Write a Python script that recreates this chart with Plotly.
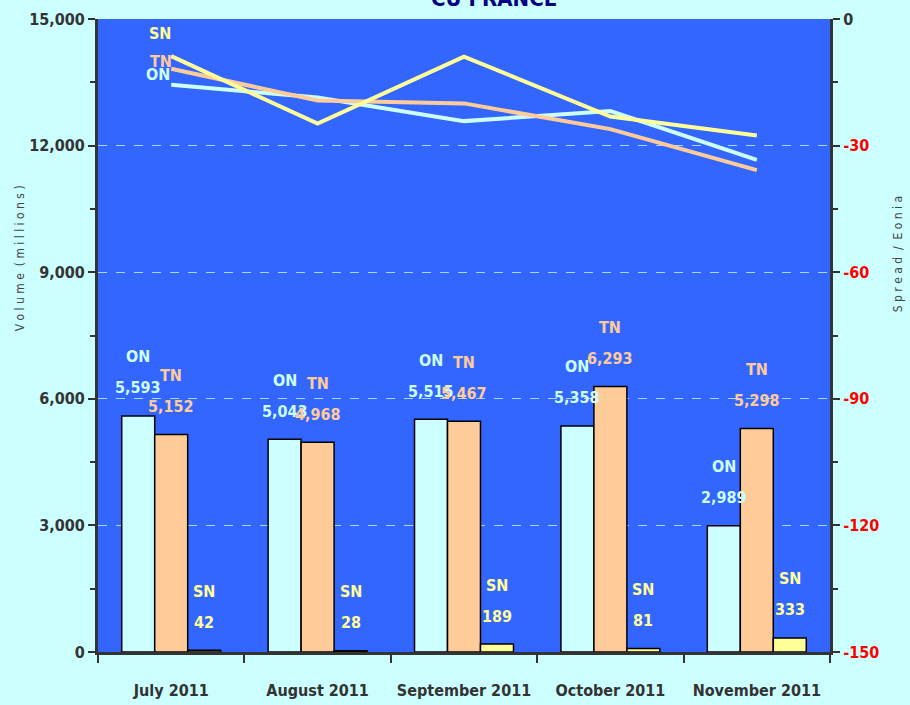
import plotly.graph_objects as go

# categories
months = ["July 2011", "August 2011", "September 2011", "October 2011", "November 2011"]

# volumes (millions) - bars, left axis
on_vol = [5593, 5043, 5515, 5358, 2989]
tn_vol = [5152, 4968, 5467, 6293, 5298]
sn_vol = [42, 28, 189, 81, 333]

# spread / eonia - lines, right axis
on_spread = [-15.6, -18.6, -24.2, -21.8, -33.4]
tn_spread = [-11.8, -19.3, -20.0, -26.1, -35.8]
sn_spread = [-8.8, -24.8, -8.9, -23.1, -27.6]

series_names = ["ON", "TN", "SN"]
colors = ["#CCFFFF", "#FFCC99", "#FFFF99"]

right_ticks = [-150, -120, -90, -60, -30, 0]

FONT = "DejaVu Sans Condensed, Liberation Sans Narrow, Arial Narrow, sans-serif"
DARK = "#333333"
bargap = 0.324
bar_w = (1 - bargap) / 3

fig = go.Figure()

vols = [on_vol, tn_vol, sn_vol]
for name, vals, col in zip(series_names, vols, colors):
    fig.add_trace(go.Bar(x=months, y=vals, name=name, marker=dict(color=col, line=dict(color="black", width=1.5)),
                         hoverinfo="skip"))

spreads = [on_spread, tn_spread, sn_spread]
for name, vals, col in zip(series_names, spreads, colors):
    fig.add_trace(go.Scatter(x=months, y=vals, name=name + " spread", yaxis="y2", mode="lines",
                             line=dict(color=col, width=4), hoverinfo="skip"))

annots = []
# labels above the bars
for i, (name, vals, col) in enumerate(zip(series_names, vols, colors)):
    for j, v in enumerate(vals):
        xpos = j + (i - 1) * bar_w
        annots.append(dict(x=xpos, y=v, xref="x", yref="y", text=f"{v:,}", showarrow=False,
                           yanchor="middle", yshift=28, font=dict(family=FONT, size=16, color=col, weight="bold")))
        annots.append(dict(x=xpos, y=v, xref="x", yref="y", text=name, showarrow=False,
                           yanchor="middle", yshift=59, font=dict(family=FONT, size=16, color=col, weight="bold")))

# labels at the start of the lines
line_shift = {"ON": (-13, 10), "TN": (-10, 7), "SN": (-11, 23)}
for name, vals, col in zip(series_names, spreads, colors):
    dx, dy = line_shift[name]
    annots.append(dict(x=0, y=vals[0], xref="x", yref="y2", text=name, showarrow=False,
                       xshift=dx, yshift=dy, font=dict(family=FONT, size=16, color=col, weight="bold")))

# title (cut by the top of the page like the original)
annots.append(dict(x=0.541, y=1.0095, xref="paper", yref="paper", text="CU FRANCE", showarrow=False,
                   yanchor="bottom", font=dict(family=FONT, size=22, color="#000080", weight="bold")))
# axis titles
annots.append(dict(x=-0.1066, y=0.622, xref="paper", yref="paper", text="V o l u m e  ( m i l l i o n s )",
                   showarrow=False, textangle=-90, xanchor="center", yanchor="middle",
                   font=dict(family=FONT, size=12, color="#444444")))
annots.append(dict(x=1.094, y=0.628, xref="paper", yref="paper", text="S p r e a d  /  E o n i a",
                   showarrow=False, textangle=-90, xanchor="center", yanchor="middle",
                   font=dict(family=FONT, size=12, color="#444444")))

right_text = [f"<span style='color:#FF0000'>{t}</span>" if t != 0 else f"<span style='color:{DARK}'>{t}</span>"
              for t in right_ticks]

fig.update_layout(
    width=910, height=705,
    margin=dict(l=98, r=80, t=19, b=53),
    paper_bgcolor="#CCFFFF",
    plot_bgcolor="#3366FF",
    barmode="group", bargap=bargap, bargroupgap=0,
    showlegend=False,
    annotations=annots,
    font=dict(family=FONT, color=DARK),
    xaxis=dict(type="category", tickson="boundaries", ticks="outside", ticklen=8, tickwidth=2, tickcolor=DARK,
               showline=True, linecolor=DARK, linewidth=3, showgrid=False, automargin=False,
               tickfont=dict(family=FONT, size=16, color=DARK, weight="bold"), ticklabelstandoff=22),
    yaxis=dict(range=[0, 15000], dtick=3000, tickformat=",d", ticks="outside", ticklen=7, tickwidth=2,
               tickcolor=DARK, showline=True, linecolor=DARK, linewidth=3, zeroline=False, automargin=False,
               showgrid=True, gridcolor="rgba(204,255,255,0.75)", griddash="dash", gridwidth=1,
               minor=dict(dtick=1500, ticks="outside", ticklen=5, tickwidth=2, tickcolor=DARK, showgrid=False),
               tickfont=dict(family=FONT, size=16, color=DARK, weight="bold")),
    yaxis2=dict(range=[-150, 0], overlaying="y", side="right", tickvals=right_ticks, ticktext=right_text,
                ticks="outside", ticklen=7, tickwidth=2, tickcolor=DARK, showline=True, linecolor=DARK,
                linewidth=3, showgrid=False, zeroline=False, automargin=False,
                minor=dict(dtick=15, ticks="outside", ticklen=5, tickwidth=2, tickcolor=DARK, showgrid=False),
                tickfont=dict(family=FONT, size=16, color="#FF0000", weight="bold")),
)

# drop the default 8px page margin so the chart fills the window like the original
fig.write_html("out.html", config={"displayModeBar": False},
               post_script="document.body.style.margin='0';document.body.style.background='#CCFFFF';")
